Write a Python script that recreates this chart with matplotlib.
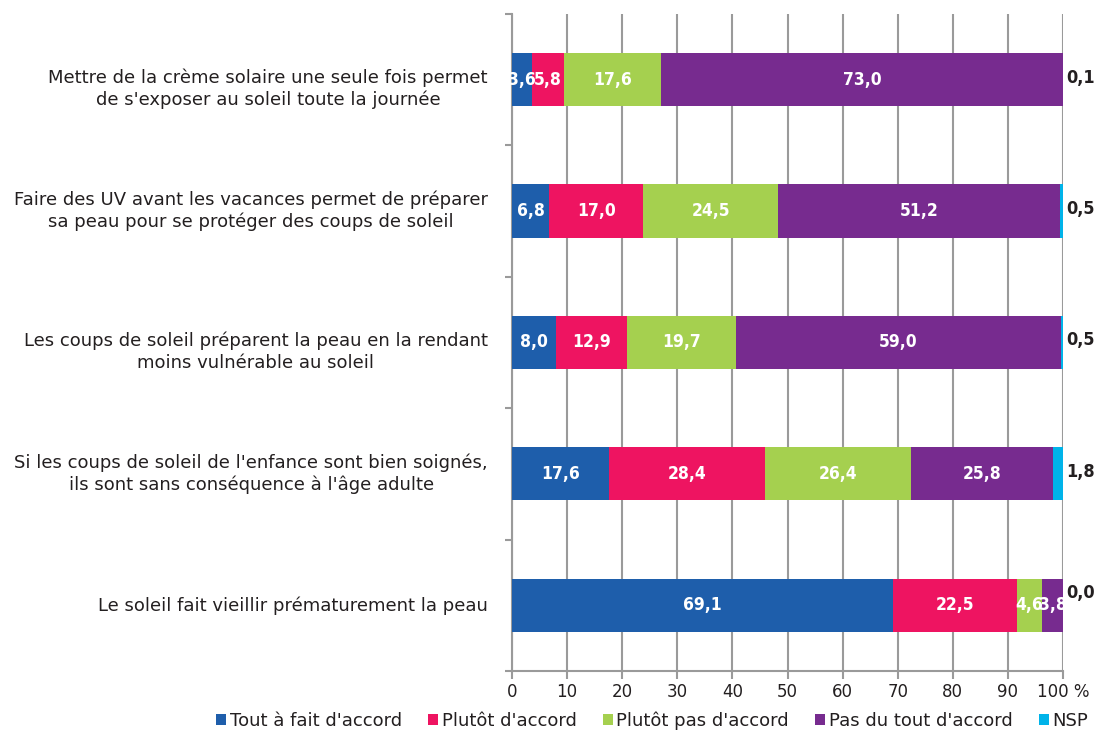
import matplotlib

matplotlib.use("Agg")
import matplotlib.pyplot as plt
from matplotlib.patches import Patch
import numpy as np

categories = [
    "Mettre de la crème solaire une seule fois permet\nde s'exposer au soleil toute la journée",
    "Faire des UV avant les vacances permet de préparer\nsa peau pour se protéger des coups de soleil",
    "Les coups de soleil préparent la peau en la rendant\nmoins vulnérable au soleil",
    "Si les coups de soleil de l'enfance sont bien soignés,\nils sont sans conséquence à l'âge adulte",
    "Le soleil fait vieillir prématurement la peau",
]
series_names = ["Tout à fait d'accord", "Plutôt d'accord", "Plutôt pas d'accord",
                "Pas du tout d'accord", "NSP"]
tout_a_fait = [3.6, 6.8, 8.0, 17.6, 69.1]
plutot = [5.8, 17.0, 12.9, 28.4, 22.5]
plutot_pas = [17.6, 24.5, 19.7, 26.4, 4.6]
pas_du_tout = [73.0, 51.2, 59.0, 25.8, 3.8]
nsp = [0.1, 0.5, 0.5, 1.8, 0.0]
colors = ["#1e5eab", "#ee1461", "#a5d04f", "#772b8f", "#00b3e9"]
x_ticks = [0, 10, 20, 30, 40, 50, 60, 70, 80, 90, 100]
x_tick_labels = ["0", "10", "20", "30", "40", "50", "60", "70", "80", "90", "100 %"]

plt.rcParams["font.family"] = ["DejaVu Sans"]
text_color = "#231f20"
grid_color = "#9a9a9a"
# the source nudges some question labels down a little
label_drop = [6.5, 0, 6.5, 0, 0]

fig = plt.figure(figsize=(11.09, 7.33), dpi=100)
ax = fig.add_axes([0.4617, 0.0846, 0.4968, 0.8963])

y = np.arange(len(categories))
series = [tout_a_fait, plutot, plutot_pas, pas_du_tout, nsp]
left = np.zeros(len(categories))
for k, (vals, color) in enumerate(zip(series, colors)):
    vals = np.array(vals)
    ax.barh(y, vals, left=left, height=0.405, color=color, zorder=3)
    for i, v in enumerate(vals):
        label = f"{v:.1f}".replace(".", ",")
        if k == len(series) - 1:
            dy = 9 if v == 0 else 1.5
            ax.annotate(label, xy=(100, y[i]), xytext=(2, dy), textcoords="offset points",
                        ha="left", va="center", fontsize=13, fontweight="bold",
                        fontstretch="condensed", color=text_color, zorder=4)
        else:
            ax.text(left[i] + v / 2, y[i], label, ha="center", va="center",
                    fontsize=12.5, fontweight="bold", fontstretch="condensed",
                    color="white", zorder=4)
    left = left + vals

for i, cat in enumerate(categories):
    ax.annotate(cat, xy=(0, y[i]), xytext=(-17.3, -label_drop[i]), textcoords="offset points",
                ha="right", va="center", multialignment="center", fontsize=13,
                color=text_color, linespacing=1.25, annotation_clip=False)

ax.set_xlim(0, 100)
ax.set_ylim(len(categories) - 0.5, -0.5)
ax.set_xticks(x_ticks)
ax.set_xticklabels(x_tick_labels, fontsize=12, color=text_color)
ax.xaxis.grid(True, color=grid_color, linewidth=1.5, zorder=0)
ax.tick_params(axis="x", length=6, width=1.5, color=grid_color, pad=3)

ax.set_yticks(np.arange(len(categories) + 1) - 0.5)
ax.set_yticklabels([])
ax.tick_params(axis="y", length=5, width=1.5, color=grid_color)

for side in ["top", "right"]:
    ax.spines[side].set_visible(False)
for side in ["left", "bottom"]:
    ax.spines[side].set_color(grid_color)
    ax.spines[side].set_linewidth(1.5)

handles = [Patch(facecolor=c, edgecolor="none") for c in colors]
fig.legend(handles, series_names, loc="lower center", bbox_to_anchor=(0.588, -0.018),
           ncol=5, frameon=False, fontsize=13, handlelength=0.55, handleheight=0.55,
           handletextpad=0.2, columnspacing=1.45, labelcolor=text_color)

fig.savefig("out.png", dpi=100)
